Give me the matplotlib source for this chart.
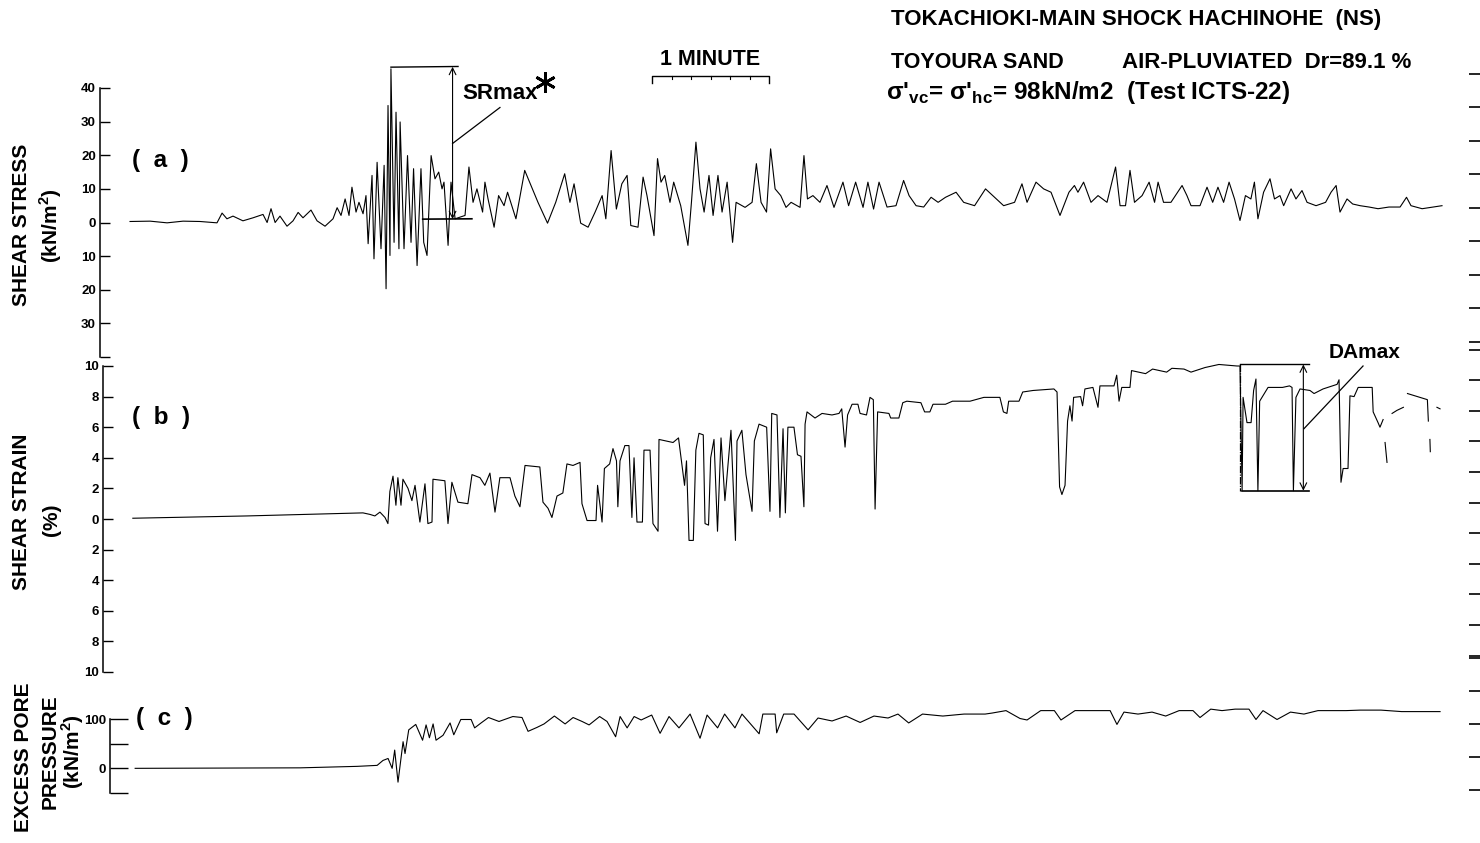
import numpy as np
import matplotlib
matplotlib.use('Agg')
import matplotlib.pyplot as plt

plt.rcParams['font.family'] = ['Liberation Sans', 'DejaVu Sans']
plt.rcParams['font.weight'] = 'bold'
plt.rcParams['mathtext.fontset'] = 'custom'
plt.rcParams['mathtext.rm'] = 'Liberation Sans:bold'
plt.rcParams['mathtext.bf'] = 'Liberation Sans:bold'

# ── data (time in seconds from start of record) ─────────────

t_stress = [0, 10.3, 19.0, 27.2, 35.9, 44.6, 47.2, 49.7, 52.8, 57.9,
            63.1, 68.2, 70.3, 72.3, 74.4, 76.9, 80.5, 83.6, 86.2, 88.7,
            92.8, 95.9, 100.0, 104.1, 106.2, 108.2, 110.3, 112.3, 113.8, 115.9,
            117.4, 119.5, 121.0, 122.1, 124.1, 125.1, 126.7, 128.7, 130.3, 131.3,
            132.3, 133.3, 133.8, 135.4, 136.4, 137.9, 138.5, 140.5, 142.3, 144.1,
            145.4, 147.2, 149.2, 150.6, 152.3, 154.4, 156.4, 158.3, 160.0, 161.0,
            163.1, 164.6, 166.7, 171.8, 173.8, 175.9, 177.9, 180.8, 182.0, 183.6,
            186.7, 189.0, 191.8, 193.6, 197.9, 202.4, 205.6, 209.2, 214.1, 218.3,
            222.9, 225.6, 227.7, 231.1, 234.9, 238.5, 242.1, 244.0, 246.7, 249.4,
            252.2, 254.9, 256.8, 260.5, 263.1, 265.1, 268.7, 270.5, 272.3, 274.2,
            276.9, 278.8, 282.4, 286.1, 287.9, 290.2, 292.3, 294.4, 296.9, 299.0,
            301.5, 303.6, 306.2, 309.0, 310.8, 315.4, 319.0, 321.2, 323.6, 326.4,
            328.5, 330.8, 333.7, 336.4, 339.0, 343.6, 345.6, 347.4, 350.2, 353.8,
            357.4, 361.0, 365.6, 368.5, 372.1, 375.9, 378.4, 381.3, 384.1, 388.2,
            392.8, 396.7, 399.5, 403.1, 407.0, 410.8, 414.4, 418.2, 423.6, 427.5,
            433.1, 438.7, 442.4, 448.0, 453.6, 457.4, 460.0, 464.6, 468.5, 472.3,
            476.9, 481.5, 484.3, 486.1, 489.0, 492.8, 496.4, 501.0, 505.4, 507.7,
            510.5, 512.8, 515.1, 519.0, 522.6, 525.4, 527.2, 530.0, 533.8, 539.5,
            542.0, 544.1, 548.7, 552.3, 555.2, 557.9, 560.8, 563.6, 566.4, 569.2,
            572.0, 574.8, 576.6, 578.4, 581.3, 584.6, 586.9, 589.7, 591.6, 595.4,
            597.9, 601.0, 603.6, 608.2, 613.1, 615.9, 618.5, 620.5, 624.1, 627.0,
            630.8, 635.4, 640.0, 645.6, 651.3, 654.6, 656.9, 662.6, 668.2, 672.8]
stress = [0.3, 0.4, -0.1, 0.4, 0.3, -0.1, 2.8, 1.1, 1.9, 0.5,
          1.4, 2.4, 0, 4.1, 0, 1.9, -1.1, 0.5, 3, 1.4,
          3.7, 0.5, -1.1, 1.1, 4.4, 2.1, 7.0, 2.1, 10.5, 3.1,
          6, 2.6, 8, -6.3, 14, -10.8, 17.9, -7.8, 17, -19.7,
          34.8, -9.8, 45.7, -5.9, 32.8, -7.8, 29.9, -7.8, 19.9, -5.9,
          16, -12.8, 16, -5.9, -9.8, 19.9, 13, 15, 10, 12,
          -6.8, 12, 1.1, 2.1, 16.5, 6, 10, 3.1, 12, 7,
          -1.4, 8, 5, 9, 1.1, 15.5, 11, 6, -0.2, 6,
          14.5, 6, 11.5, -0.2, -1.4, 3.1, 8, 1.1, 21.4, 4,
          11.5, 14, -0.9, -1.4, 13.5, 8, -3.9, 19, 12, 14,
          6, 12, 5, -6.8, 6, 23.9, 10, 3.1, 14, 2.1,
          14, 3.1, 12, -5.9, 6, 4.5, 6, 17.5, 6, 3.1,
          21.9, 10, 8, 4.5, 6, 4.5, 19.9, 7, 8, 6,
          11, 4.5, 12, 5, 12, 4.5, 12, 4, 12, 4.6,
          5, 12.5, 8, 5, 4.6, 7.5, 6, 7.5, 9, 6,
          5, 10, 8, 5, 6, 11.5, 6, 12, 10, 9,
          2.1, 9, 11, 9, 12, 6, 8, 6, 16.5, 5,
          5, 15.5, 6, 8, 12, 6, 12, 6, 6, 11,
          8, 5, 5, 10.5, 6, 10.5, 6, 12, 7, 0.6,
          8, 7, 12, 1.1, 9, 13, 7, 8, 5, 10,
          7, 9.5, 6, 5, 6, 9, 11, 3.1, 7, 5.5,
          5, 4.6, 4.1, 4.6, 4.6, 7.5, 5, 4.1, 4.6, 5]

nan = np.nan
t_strain = [1.5, 60.0, 119.5, 123.1, 125.6, 128.2, 130.8, 132.3, 133.3, 134.9,
            136.4, 137.4, 139.0, 140.0, 142.6, 144.6, 146.2, 148.7, 151.3, 152.8,
            154.9, 155.4, 161.5, 163.1, 165.1, 168.2, 173.3, 175.4, 179.5, 182.0,
            184.6, 187.2, 189.7, 194.9, 197.4, 200.0, 202.6, 210.2, 211.8, 214.4,
            216.4, 219.0, 222.0, 224.1, 227.2, 230.8, 231.8, 234.4, 239.0, 239.8,
            242.1, 243.3, 246.0, 247.7, 249.5, 250.2, 251.3, 253.8, 255.9, 257.4,
            258.5, 260.0, 262.8, 263.6, 266.7, 268.2, 270.8, 271.3, 278.5, 281.3,
            284.4, 285.4, 286.7, 288.9, 290.2, 291.8, 294.0, 294.9, 296.7, 297.8,
            299.5, 301.3, 303.1, 305.1, 308.2, 310.5, 311.3, 313.8, 315.9, 319.0,
            320.2, 322.6, 326.5, 328.2, 329.1, 331.8, 333.3, 334.9, 336.1, 337.4,
            340.5, 342.3, 344.1, 345.6, 346.2, 347.2, 351.3, 354.9, 360.0, 363.6,
            365.0, 366.7, 368.0, 370.3, 373.3, 374.4, 377.7, 379.5, 381.2, 382.1,
            383.4, 389.2, 390.1, 394.3, 396.3, 398.4, 405.6, 407.5, 410.2, 411.8,
            418.2, 421.8, 430.8, 437.9, 446.1, 447.9, 449.7, 450.6, 455.9, 457.8,
            463.1, 473.8, 475.4, 476.7, 477.9, 479.5, 480.8, 482.0, 483.1, 483.9,
            487.5, 488.5, 489.7, 493.8, 496.4, 497.4, 504.6, 506.0, 507.2, 508.6,
            512.8, 513.6, 520.8, 524.4, 531.6, 534.3, 540.5, 544.1, 551.3, 558.4,
            567.7, 569.2, 570.3, 570.8, 572.8, 574.9, 576.2, 577.4, 578.4, 579.3,
            583.6, 591.0, 594.6, 595.9, 596.6, 597.9, 600.0, 605.1, 607.2, 611.8,
            619.0, 620.0, 621.0, 622.1, 624.6, 625.6, 627.7, 629.8, 637.0, 637.5,
            640.0, 641.0, 642.6, nan, 643.6, 644.6, nan, 647.2, 649.7, 653.0,
            nan, 655.1, 660.2, 665.3, 665.8, nan, 666.6, 666.8, nan, 670.2,
            671.8]
strain = [0.05, 0.2, 0.4, 0.3, 0.2, 0.45, 0.1, -0.3, 1.8, 2.8,
          0.9, 2.7, 0.9, 2.6, 2.0, 1.2, 2.2, -0.2, 2.3, -0.3,
          -0.2, 2.6, 2.5, -0.3, 2.4, 1.1, 1.0, 2.9, 2.7, 2.2,
          3.0, 0.45, 2.7, 2.7, 1.5, 0.8, 3.5, 3.4, 1.1, 0.7,
          0.1, 1.5, 1.7, 3.6, 3.5, 3.7, 1.0, -0.1, -0.1, 2.2,
          -0.2, 3.3, 3.6, 4.6, 3.8, 0.8, 3.8, 4.8, 4.8, 0.1,
          4.0, -0.2, -0.2, 4.5, 4.5, -0.3, -0.8, 5.2, 5.0, 5.3,
          2.2, 3.8, -1.4, -1.4, 4.5, 5.6, 5.5, -0.3, -0.4, 4.0,
          5.2, -0.8, 5.3, 1.2, 5.8, -1.4, 5.1, 5.8, 2.9, 0.5,
          5.1, 6.2, 6.0, 0.5, 6.9, 6.8, 0.1, 5.9, 0.4, 6.0,
          6.0, 4.2, 4.1, 0.8, 6.2, 7.0, 6.6, 6.9, 6.8, 6.9,
          7.2, 4.7, 6.8, 7.5, 7.5, 6.9, 6.8, 7.95, 7.8, 0.65,
          7.0, 6.9, 6.6, 6.6, 7.6, 7.7, 7.6, 7.0, 7.0, 7.5,
          7.5, 7.7, 7.7, 7.95, 7.95, 7.0, 6.9, 7.7, 7.7, 8.3,
          8.4, 8.5, 8.3, 2.1, 1.6, 2.2, 6.4, 7.4, 6.4, 7.95,
          8.0, 7.4, 8.5, 8.6, 7.3, 8.7, 8.7, 9.4, 7.7, 8.6,
          8.6, 9.7, 9.5, 9.8, 9.6, 9.85, 9.8, 9.6, 9.9, 10.1,
          10.0, 10.0, 1.85, 7.95, 6.3, 6.3, 8.4, 9.15, 1.85, 7.7,
          8.6, 8.6, 8.7, 8.6, 1.85, 7.95, 8.5, 8.4, 8.2, 8.5,
          8.8, 9.1, 2.4, 3.3, 3.3, 8.05, 8.0, 8.6, 8.6, 7.0,
          6.3, 6.0, 6.5, nan, 5.0, 3.7, nan, 6.9, 7.1, 7.3,
          nan, 8.2, 8.0, 7.8, 6.4, nan, 5.2, 4.4, nan, 7.3,
          7.2]

t_pore = [2.6, 87.2, 116.4, 126.7, 129.7, 132.3, 134.4, 135.7, 137.4, 140.0,
          141.0, 142.9, 146.5, 150.0, 151.8, 153.5, 155.4, 156.9, 160.5, 164.1,
          166.0, 169.6, 174.9, 176.7, 180.0, 183.8, 189.2, 196.3, 201.0, 204.1,
          208.7, 212.3, 217.6, 223.1, 227.2, 231.8, 235.4, 240.8, 244.6, 249.0,
          251.3, 254.9, 258.5, 262.1, 267.5, 271.8, 276.4, 281.5, 287.2, 292.3,
          295.9, 301.3, 304.9, 310.2, 313.8, 322.6, 324.5, 330.8, 331.6, 335.2,
          340.5, 347.7, 352.8, 360.0, 367.2, 374.4, 381.5, 388.7, 393.8, 399.3,
          406.4, 416.8, 427.7, 438.5, 442.0, 449.2, 456.4, 460.0, 467.0, 474.0,
          477.4, 484.6, 495.4, 502.6, 506.1, 509.7, 516.9, 524.1, 531.1, 538.0,
          545.1, 548.7, 554.2, 560.0, 566.7, 573.8, 577.4, 581.0, 588.2, 595.1,
          602.0, 609.2, 616.4, 623.6, 630.8, 641.5, 652.1, 655.7, 669.9, 671.8]
pore = [0, 1, 4, 6, 16, 20, 0, 37, -28, 54,
        30, 78, 89, 57, 88, 62, 90, 57, 67, 92,
        68, 99, 99, 82, 92, 103, 95, 105, 103, 75,
        83, 90, 106, 90, 103, 95, 88, 105, 95, 64,
        105, 82, 105, 98, 108, 71, 105, 82, 110, 61,
        108, 82, 110, 82, 110, 70, 110, 110, 72, 110,
        110, 78, 102, 96, 106, 93, 106, 102, 110, 92,
        110, 106, 110, 110, 112, 117, 101, 98, 117, 117,
        98, 117, 117, 117, 89, 114, 110, 114, 106, 117,
        117, 103, 120, 117, 120, 120, 99, 117, 99, 114,
        110, 117, 117, 117, 118, 118, 115, 115, 115, 115]

stress_ticks = [40, 30, 20, 10, 0, -10, -20, -30, -40]
stress_labels = ['40', '30', '20', '10', '0', '10', '20', '30', '']
strain_ticks = [10, 8, 6, 4, 2, 0, -2, -4, -6, -8, -10]
strain_labels = ['10', '8', '6', '4', '2', '0', '2', '4', '6', '8', '10']
pore_ticks = [100, 50, 0, -50]
pore_labels = ['100', '', '0', '']

W, H = 1480, 843


def fx(px):
    return px / W


def fy(py):
    return 1 - py / H


def make_axes(fig, left, top, bottom, xmin):
    ax = fig.add_axes([fx(left), fy(bottom), fx(1450) - fx(left), fy(top) - fy(bottom)])
    ax.set_xlim(xmin, 676.9)
    for s in ['top', 'right', 'bottom']:
        ax.spines[s].set_visible(False)
    ax.spines['left'].set_linewidth(1.1)
    ax.set_xticks([])
    ax.patch.set_alpha(0)
    return ax


def style_y(ax, ticks, labels, lo, hi, tlen, zlen):
    ax.set_ylim(lo, hi)
    ax.set_yticks(ticks)
    ax.set_yticklabels(labels)
    ax.set_yticks([0], minor=True)
    ax.tick_params(axis='y', which='major', direction='in', length=tlen, width=1,
                   labelsize=9.5, pad=3)
    ax.tick_params(axis='y', which='minor', direction='in', length=zlen, width=1)


def edge_axes(fig, top, bottom, lo, hi, step):
    # y-axis ticks of the neighbouring (cropped) figure at the right edge
    ax = fig.add_axes([fx(1481), fy(bottom), 0.01, fy(top) - fy(bottom)])
    for s in ax.spines.values():
        s.set_visible(False)
    ax.set_xticks([])
    ax.set_ylim(lo, hi)
    ax.set_yticks(np.arange(lo, hi + step / 2, step))
    ax.set_yticklabels([])
    ax.set_yticks([0], minor=True)
    ax.tick_params(axis='y', which='major', direction='out', length=9, width=1.2)
    ax.tick_params(axis='y', which='minor', direction='out', length=14, width=1.2)
    ax.patch.set_alpha(0)
    return ax


fig = plt.figure(figsize=(W / 100, H / 100), dpi=100)

# ── (a) shear stress ─────────────────────────────────────────
ax_a = make_axes(fig, 100, 88, 357, -15.4)
style_y(ax_a, stress_ticks, stress_labels, -40, 40, 7, 13)
ax_a.plot(t_stress, stress, color='k', lw=0.8, clip_on=False)

# SRmax bracket
ax_a.plot([133.8, 168.2], [46.2, 46.4], color='k', lw=1.0, clip_on=False)
ax_a.plot([150.1, 175.3], [1.0, 1.1], color='k', lw=1.2, clip_on=False)
ax_a.annotate('', xy=(165.4, 46.3), xytext=(165.4, 1.0),
              arrowprops=dict(arrowstyle='<->', lw=0.8, color='k',
                              shrinkA=0, shrinkB=0, mutation_scale=12),
              annotation_clip=False)
ax_a.plot([165.4, 189.7], [23.5, 34.2], color='k', lw=0.9, clip_on=False)
ax_a.text(189.7, 38.5, 'SRmax', ha='center', va='center', fontsize=16,
          fontweight='bold')
ax_a.plot([212.8], [41.8], marker=(6, 2, 0), ms=15, mew=2.0, color='k',
          clip_on=False)

# 1 minute scale bar
ax_a.plot([267.7, 267.7, 327.7, 327.7], [41.4, 43.5, 43.5, 41.4], color='k',
          lw=1.0, clip_on=False)
for tk in [277.7, 287.7, 297.7, 307.7, 317.7]:
    ax_a.plot([tk, tk], [43.5, 42.6], color='k', lw=0.8, clip_on=False)
ax_a.text(297.7, 48.6, '1 MINUTE', ha='center', va='center', fontsize=15.5,
          fontweight='bold')

# ── (b) shear strain ─────────────────────────────────────────
ax_b = make_axes(fig, 103, 366, 672, -13.8)
style_y(ax_b, strain_ticks, strain_labels, -10, 10, 7, 16)
ax_b.plot(t_strain, strain, color='k', lw=0.8, clip_on=False)

# DAmax box
ax_b.plot([569.2, 569.2], [10.1, 1.85], color='k', lw=0.9, ls=(0, (6, 1, 1, 1)),
          clip_on=False)
ax_b.plot([569.2, 604.4], [10.1, 10.1], color='k', lw=1.0, clip_on=False)
ax_b.plot([570.3, 604.4], [1.85, 1.85], color='k', lw=1.2)
ax_b.annotate('', xy=(601.7, 10.1), xytext=(601.7, 1.85),
              arrowprops=dict(arrowstyle='<->', lw=0.8, color='k',
                              shrinkA=0, shrinkB=0, mutation_scale=12),
              annotation_clip=False)
ax_b.plot([602.0, 632.3], [5.9, 10.0], color='k', lw=0.9, clip_on=False)
ax_b.text(633.3, 10.9, 'DAmax', ha='center', va='center', fontsize=15,
          fontweight='bold')

# ── (c) excess pore pressure ─────────────────────────────────
ax_c = make_axes(fig, 110, 719, 793, -10.3)
style_y(ax_c, pore_ticks, pore_labels, -50, 100, 13, 13)
ax_c.plot(t_pore, pore, color='k', lw=0.8, clip_on=False)

# ── neighbouring figure's axes, cut off at the right edge ────
edge_axes(fig, 73.5, 341.5, -40, 40, 10)
edge_axes(fig, 349.5, 655.5, -10, 10, 2)
edge_axes(fig, 658, 790, -1, 3, 1)

# ── text ─────────────────────────────────────────────────────
fig.text(fx(160), fy(161), '(  a  )', ha='center', va='center', fontsize=17.5)
fig.text(fx(161), fy(417), '(  b  )', ha='center', va='center', fontsize=17.5)
fig.text(fx(164), fy(719), '(  c  )', ha='center', va='center', fontsize=17.5)

fig.text(fx(22), fy(225), 'SHEAR STRESS', rotation=90, ha='center', va='center',
         fontsize=15)
fig.text(fx(51), fy(226), '(kN/m$^{2}$)', rotation=90, ha='center', va='center',
         fontsize=15)
fig.text(fx(22), fy(512), 'SHEAR STRAIN', rotation=90, ha='center', va='center',
         fontsize=15)
fig.text(fx(51), fy(520), '(%)', rotation=90, ha='center', va='center',
         fontsize=15)
fig.text(fx(24), fy(757), 'EXCESS PORE', rotation=90, ha='center', va='center',
         fontsize=15)
fig.text(fx(50), fy(752), 'PRESSURE', rotation=90, ha='center', va='center',
         fontsize=15)
fig.text(fx(73), fy(752), '(kN/m$^{2}$)', rotation=90, ha='center', va='center',
         fontsize=15)

fig.text(fx(891), fy(20), 'TOKACHIOKI-MAIN SHOCK HACHINOHE  (NS)', ha='left',
         va='center', fontsize=16)
fig.text(fx(891), fy(62), 'TOYOURA SAND', ha='left', va='center', fontsize=15.5)
fig.text(fx(1122), fy(63), 'AIR-PLUVIATED  Dr=89.1 %', ha='left', va='center',
         fontsize=16)
fig.text(fx(886), fy(92),
         r"σ$'_{\mathregular{vc}}$= σ$'_{\mathregular{hc}}$= 98kN/m2  (Test ICTS-22)",
         ha='left', va='center', fontsize=17.5)

fig.savefig('out.png', dpi=100)
